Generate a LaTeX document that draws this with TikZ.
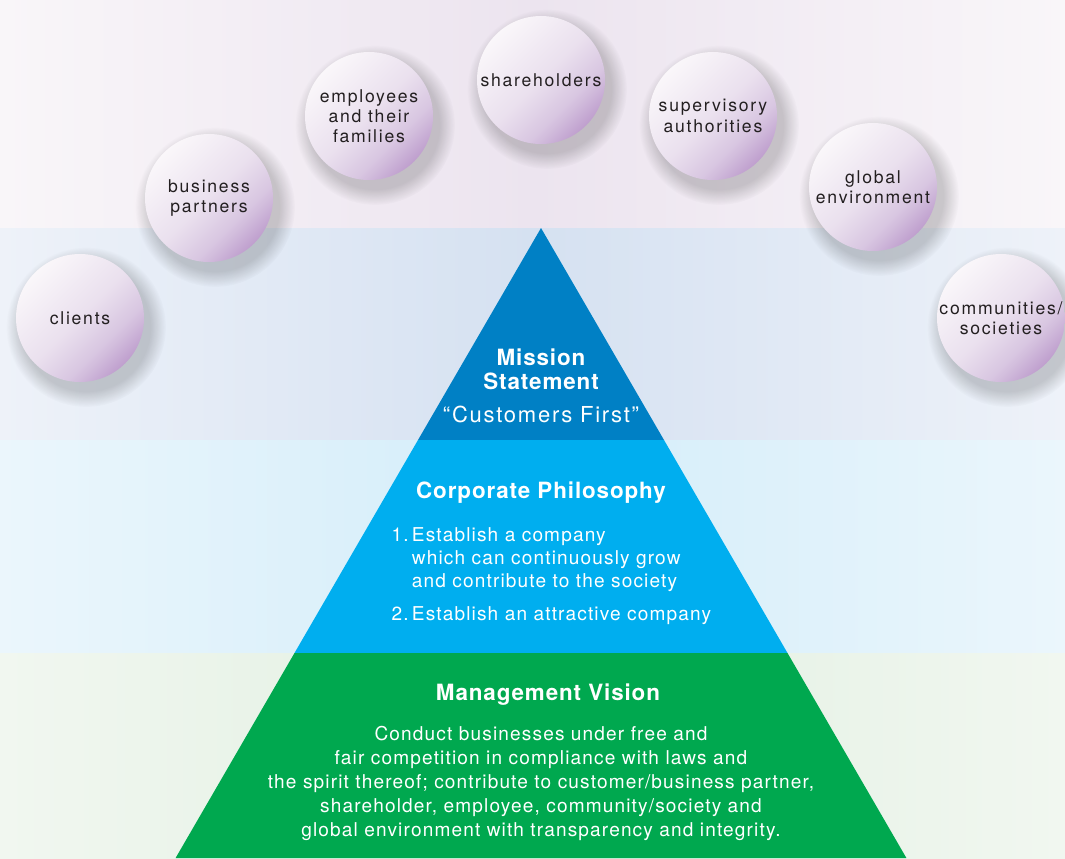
\documentclass[tikz,border=0pt]{standalone}
\usepackage{fontspec}
\setmainfont{TeX Gyre Heros}
\newfontfamily\circfont{TeX Gyre Heros}[LetterSpace=10]
\newfontfamily\pyrfont{TeX Gyre Heros}[LetterSpace=6]
\newfontfamily\custfont{TeX Gyre Heros}[LetterSpace=8]
\newfontfamily\pyrbold{TeX Gyre Heros}[LetterSpace=4,UprightFont=*-Bold]
\usetikzlibrary{fadings}
\definecolor{bandAe}{HTML}{F9F6F9}
\definecolor{bandAm}{HTML}{ECE4EF}
\definecolor{bandBe}{HTML}{EEF2F9}
\definecolor{bandBm}{HTML}{D5E1F1}
\definecolor{bandCe}{HTML}{EBF6FC}
\definecolor{bandCm}{HTML}{D3EDF9}
\definecolor{bandDe}{HTML}{F1F7F0}
\definecolor{bandDm}{HTML}{E1EFE1}
\definecolor{orbA}{HTML}{FAF7FA}
\definecolor{orbB}{HTML}{EAE0EE}
\definecolor{orbC}{HTML}{D8C6E1}
\definecolor{orbD}{HTML}{BF9FCE}
\definecolor{missionc}{HTML}{0080C5}
\definecolor{corpc}{HTML}{00AEEF}
\definecolor{mgmtc}{HTML}{00A84F}
\definecolor{txtc}{HTML}{231F20}
\pgfdeclareverticalshading{orb}{100bp}{color(0bp)=(orbD); color(25bp)=(orbD); color(36bp)=(orbC); color(50bp)=(orbB); color(75bp)=(orbA); color(100bp)=(orbA)}
\tikzset{
  band/.style={left color=#1, right color=#1},
  orbnode/.style={circle, minimum size=96pt, inner sep=0pt, shading=orb, shading angle=45, align=center,
    text=txtc, font=\circfont\fontsize{13.2}{15.2}\selectfont},
  orbshadow/.style={fill=black, opacity=0.18, path fading=circle with fuzzy edge 20 percent},
  title/.style={text=white, align=center, font=\pyrbold\fontsize{16.8}{18}\selectfont},
  body/.style={text=white, align=center, font=\pyrfont\fontsize{14.3}{18}\selectfont},
}
\begin{document}
\begin{tikzpicture}[x=0.75pt,y=-0.75pt]
\useasboundingbox (0,0) rectangle (1065,858);
% background bands
\shade[band=bandAe, middle color=bandAm] (0,0) rectangle (1065,228);
\shade[band=bandBe, middle color=bandBm] (0,228) rectangle (1065,440);
\shade[band=bandCe, middle color=bandCm] (0,440) rectangle (1065,653);
\shade[band=bandDe, middle color=bandDm] (0,653) rectangle (1065,858);
% stakeholder orbs
\foreach \nm/\cx/\cy/\txt in {
  clients/80/318/{clients},
  partners/209/198/{business\\partners},
  employees/369/116/{employees\\and their\\families},
  shareholders/541/80/{shareholders},
  supervisory/713/116/{supervisory\\authorities},
  global/873/187/{global\\environment},
  communities/1001/318/{communities/\\societies}}{
  \fill[orbshadow] (\cx+6,\cy+9) circle[radius=80];
  \node[orbnode] (\nm) at (\cx,\cy) {\txt};
}
% pyramid
\coordinate (apex) at (541,228);
\coordinate (m1l) at (418,440);
\coordinate (m1r) at (664,440);
\coordinate (m2l) at (294.5,653);
\coordinate (m2r) at (787.5,653);
\coordinate (bl) at (175.6,858);
\coordinate (br) at (906.4,858);
\fill[missionc] (apex) -- (m1r) -- (m1l) -- cycle;
\fill[corpc] (m1l) -- (m1r) -- (m2r) -- (m2l) -- cycle;
\fill[mgmtc] (m2l) -- (m2r) -- (br) -- (bl) -- cycle;
% texts
\node[title] (mission) at (541,369) {Mission\\Statement};
\node[body, font=\custfont\fontsize{16.5}{18}\selectfont] (custfirst) at (541,414) {“Customers First”};
\node[title] (corp) at (541,493) {Corporate Philosophy};
\node[body, align=left, anchor=west, font=\pyrfont\fontsize{14.3}{17.25}\selectfont] (philo) at (387,576)
  {1.\,Establish a company\\
   \phantom{1.\,}which can continuously grow\\
   \phantom{1.\,}and contribute to the society\\[7.5pt]
   2.\,Establish an attractive company};
\node[title] (mgmt) at (548,695) {Management Vision};
\node[body] (vision) at (541,783)
  {Conduct businesses under free and\\
   fair competition in compliance with laws and\\
   the spirit thereof; contribute to customer/business partner,\\
   shareholder, employee, community/society and\\
   global environment with transparency and integrity.};
\end{tikzpicture}
\end{document}
